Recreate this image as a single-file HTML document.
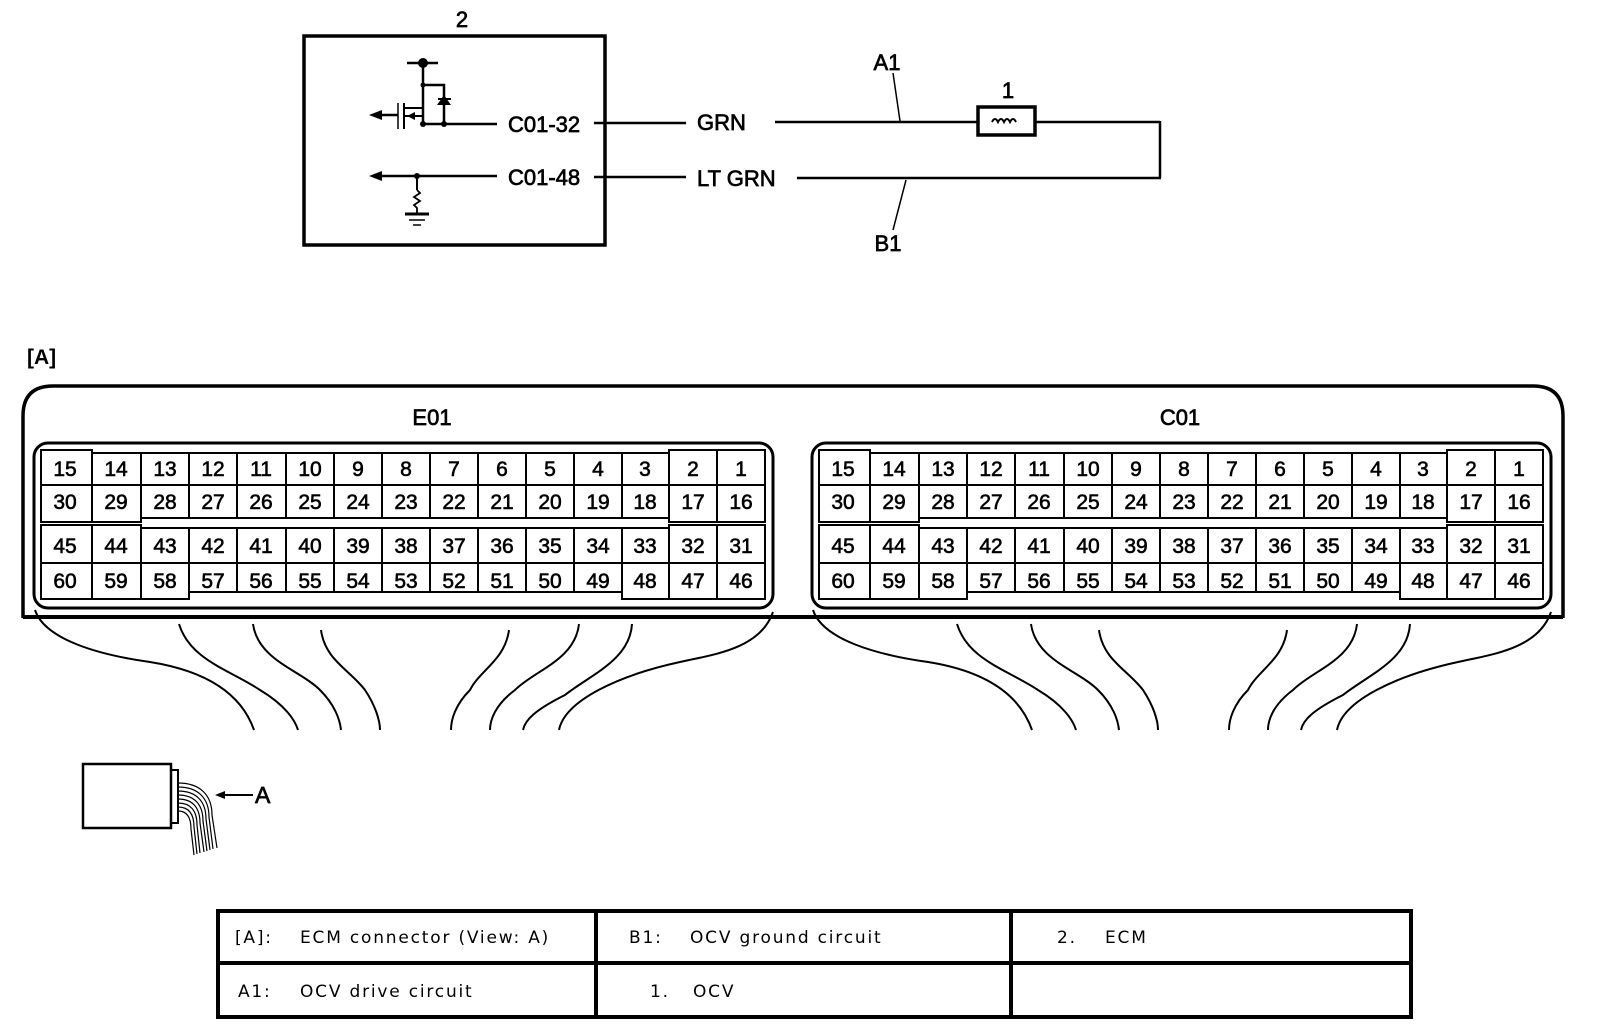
<!DOCTYPE html>
<html><head><meta charset="utf-8"><style>
html,body{margin:0;padding:0;background:#fff;}
svg{display:block;}
.t{font-family:"Liberation Sans",Arial,sans-serif;font-size:22px;fill:#000;stroke:#000;stroke-width:0.7;}
.n{font-family:"Liberation Sans",Arial,sans-serif;font-size:21px;fill:#000;stroke:#000;stroke-width:0.6;text-anchor:middle;}
.v{font-family:"DejaVu Sans",Verdana,sans-serif;font-size:17px;fill:#000;letter-spacing:1.8px;}
</style></head><body>
<svg width="1600" height="1036" viewBox="0 0 1600 1036" xmlns="http://www.w3.org/2000/svg">
<g fill="none" stroke="#000">
<rect x="304" y="36" width="301" height="209" stroke-width="3.5"/>
<line x1="407" y1="63" x2="438" y2="63" stroke-width="2.5"/>
<line x1="423" y1="63" x2="423" y2="124" stroke-width="2.5"/>
<polyline points="423,85 444,85 444,124" stroke-width="2.5"/>
<line x1="423" y1="124" x2="497" y2="124" stroke-width="2.5"/>
<line x1="398" y1="103" x2="398" y2="129" stroke-width="1.5"/>
<line x1="404" y1="103" x2="404" y2="129" stroke-width="2"/>
<line x1="404" y1="108" x2="423" y2="108" stroke-width="2"/>
<line x1="404" y1="116" x2="423" y2="116" stroke-width="2"/>
<line x1="380" y1="115" x2="398" y2="115" stroke-width="2.5"/>
<line x1="438" y1="99" x2="451" y2="99" stroke-width="2"/>
<line x1="380" y1="176" x2="497" y2="176" stroke-width="2.5"/>
<line x1="417" y1="176" x2="417" y2="190" stroke-width="2"/>
<polyline points="417,190 420,193 414,197 420,201 414,205 417,208 417,214" stroke-width="1.8"/>
<line x1="405" y1="214" x2="429" y2="214" stroke-width="3"/>
<line x1="409" y1="220" x2="425" y2="220" stroke-width="1.5"/>
<line x1="413" y1="225" x2="421" y2="225" stroke-width="1.5"/>
<line x1="594" y1="123" x2="686" y2="123" stroke-width="2.5"/>
<line x1="594" y1="177" x2="686" y2="177" stroke-width="2.5"/>
<line x1="775" y1="122" x2="977" y2="122" stroke-width="2.5"/>
<line x1="1036" y1="122" x2="1160" y2="122" stroke-width="2.5"/>
<line x1="1160" y1="121" x2="1160" y2="178" stroke-width="2.5"/>
<line x1="797" y1="178" x2="1161" y2="178" stroke-width="2.5"/>
<rect x="978" y="107" width="57" height="28" stroke-width="3.5"/>
<path d="M992,122 q3,-6 6,0 q3,-6 6,0 q3,-6 6,0 q3,-6 6,0" stroke-width="2"/>
<line x1="893" y1="73" x2="900" y2="121" stroke-width="1.5"/>
<line x1="906" y1="180" x2="893" y2="230" stroke-width="1.5"/>
</g>
<g fill="#000">
<circle cx="423" cy="63" r="5"/>
<circle cx="423" cy="85" r="2.5"/>
<circle cx="423" cy="124" r="3"/>
<circle cx="444" cy="124" r="3"/>
<circle cx="417" cy="176" r="3"/>
<polygon points="437,105 451,105 444,95"/>
<polygon points="369,115 382,110 382,120"/>
<polygon points="407,116 415,112 415,120"/>
<polygon points="369,176 382,171 382,181"/>
</g>
<text class="t" x="462" y="27" text-anchor="middle">2</text>
<text class="t" x="508" y="132">C01-32</text>
<text class="t" x="508" y="185">C01-48</text>
<text class="t" x="697" y="130">GRN</text>
<text class="t" x="697" y="186">LT GRN</text>
<text class="t" x="887" y="70" text-anchor="middle">A1</text>
<text class="t" x="1008" y="98" text-anchor="middle">1</text>
<text class="t" x="888" y="251" text-anchor="middle">B1</text>
<text x="27" y="364" style="font-family:'Liberation Sans',Arial,sans-serif;font-size:21px;font-weight:bold">[A]</text>

<path d="M23,618 L23,416 Q23,386 53,386 L1533,386 Q1563,386 1563,416 L1563,618" fill="none" stroke="#000" stroke-width="3.5"/>
<line x1="23" y1="617" x2="1563" y2="617" stroke="#000" stroke-width="4"/>
<text class="t" x="432" y="425" text-anchor="middle">E01</text>
<text class="t" x="1180" y="425" text-anchor="middle">C01</text>

<g id="blk">
<rect x="34" y="443" width="739" height="165" rx="14" fill="none" stroke="#000" stroke-width="3"/>
<g fill="#fff" stroke="#000" stroke-width="2">
<rect x="41" y="450" width="51" height="35"/><rect x="41" y="485" width="51" height="37"/>
<rect x="92" y="453" width="49" height="32"/><rect x="92" y="485" width="49" height="37"/>
<rect x="141" y="453" width="48" height="32"/><rect x="141" y="485" width="48" height="33"/>
<rect x="189" y="453" width="48" height="32"/><rect x="189" y="485" width="48" height="33"/>
<rect x="237" y="453" width="49" height="32"/><rect x="237" y="485" width="49" height="33"/>
<rect x="286" y="453" width="48" height="32"/><rect x="286" y="485" width="48" height="33"/>
<rect x="334" y="453" width="48" height="32"/><rect x="334" y="485" width="48" height="33"/>
<rect x="382" y="453" width="48" height="32"/><rect x="382" y="485" width="48" height="33"/>
<rect x="430" y="453" width="48" height="32"/><rect x="430" y="485" width="48" height="33"/>
<rect x="478" y="453" width="48" height="32"/><rect x="478" y="485" width="48" height="33"/>
<rect x="526" y="453" width="48" height="32"/><rect x="526" y="485" width="48" height="33"/>
<rect x="574" y="453" width="48" height="32"/><rect x="574" y="485" width="48" height="33"/>
<rect x="622" y="453" width="47" height="32"/><rect x="622" y="485" width="47" height="33"/>
<rect x="669" y="450" width="48" height="35"/><rect x="669" y="485" width="48" height="37"/>
<rect x="717" y="450" width="48" height="35"/><rect x="717" y="485" width="48" height="37"/>
<rect x="41" y="525" width="51" height="38"/><rect x="41" y="563" width="51" height="36"/>
<rect x="92" y="525" width="49" height="38"/><rect x="92" y="563" width="49" height="36"/>
<rect x="141" y="528" width="48" height="35"/><rect x="141" y="563" width="48" height="36"/>
<rect x="189" y="528" width="48" height="35"/><rect x="189" y="563" width="48" height="29"/>
<rect x="237" y="528" width="49" height="35"/><rect x="237" y="563" width="49" height="29"/>
<rect x="286" y="528" width="48" height="35"/><rect x="286" y="563" width="48" height="29"/>
<rect x="334" y="528" width="48" height="35"/><rect x="334" y="563" width="48" height="29"/>
<rect x="382" y="528" width="48" height="35"/><rect x="382" y="563" width="48" height="29"/>
<rect x="430" y="528" width="48" height="35"/><rect x="430" y="563" width="48" height="29"/>
<rect x="478" y="528" width="48" height="35"/><rect x="478" y="563" width="48" height="29"/>
<rect x="526" y="528" width="48" height="35"/><rect x="526" y="563" width="48" height="29"/>
<rect x="574" y="528" width="48" height="35"/><rect x="574" y="563" width="48" height="29"/>
<rect x="622" y="528" width="47" height="35"/><rect x="622" y="563" width="47" height="36"/>
<rect x="669" y="525" width="48" height="38"/><rect x="669" y="563" width="48" height="36"/>
<rect x="717" y="525" width="48" height="38"/><rect x="717" y="563" width="48" height="36"/>
</g>
<g class="n">
<text x="65" y="476">15</text><text x="116" y="476">14</text><text x="165" y="476">13</text><text x="213" y="476">12</text><text x="261" y="476">11</text><text x="310" y="476">10</text><text x="358" y="476">9</text><text x="406" y="476">8</text><text x="454" y="476">7</text><text x="502" y="476">6</text><text x="550" y="476">5</text><text x="598" y="476">4</text><text x="645" y="476">3</text><text x="693" y="476">2</text><text x="741" y="476">1</text>
<text x="65" y="509">30</text><text x="116" y="509">29</text><text x="165" y="509">28</text><text x="213" y="509">27</text><text x="261" y="509">26</text><text x="310" y="509">25</text><text x="358" y="509">24</text><text x="406" y="509">23</text><text x="454" y="509">22</text><text x="502" y="509">21</text><text x="550" y="509">20</text><text x="598" y="509">19</text><text x="645" y="509">18</text><text x="693" y="509">17</text><text x="741" y="509">16</text>
<text x="65" y="553">45</text><text x="116" y="553">44</text><text x="165" y="553">43</text><text x="213" y="553">42</text><text x="261" y="553">41</text><text x="310" y="553">40</text><text x="358" y="553">39</text><text x="406" y="553">38</text><text x="454" y="553">37</text><text x="502" y="553">36</text><text x="550" y="553">35</text><text x="598" y="553">34</text><text x="645" y="553">33</text><text x="693" y="553">32</text><text x="741" y="553">31</text>
<text x="65" y="588">60</text><text x="116" y="588">59</text><text x="165" y="588">58</text><text x="213" y="588">57</text><text x="261" y="588">56</text><text x="310" y="588">55</text><text x="358" y="588">54</text><text x="406" y="588">53</text><text x="454" y="588">52</text><text x="502" y="588">51</text><text x="550" y="588">50</text><text x="598" y="588">49</text><text x="645" y="588">48</text><text x="693" y="588">47</text><text x="741" y="588">46</text>
</g>
<g fill="none" stroke="#000" stroke-width="2">
<path d="M35,610 C45,640 100,655 150,662 C200,670 240,690 254,730"/>
<path d="M179,624 C190,660 230,670 260,690 C285,705 295,720 298,730"/>
<path d="M253,624 C258,660 300,670 320,690 C335,705 340,720 341,730"/>
<path d="M321,630 C325,660 350,670 365,690 C375,705 380,720 380,730"/>
<path d="M509,630 C505,660 480,670 470,690 C455,705 451,720 451,730"/>
<path d="M579,624 C575,660 535,670 515,690 C495,705 490,720 490,730"/>
<path d="M632,624 C630,660 590,675 565,695 C535,710 525,720 523,730"/>
<path d="M773,612 C760,650 710,655 680,662 C620,675 565,700 559,730"/>
</g>
</g>
<use href="#blk" x="778" y="0"/>

<g fill="none" stroke="#000">
<rect x="83" y="764" width="88" height="64" stroke-width="2.5"/>
<rect x="171" y="770" width="7" height="53" stroke-width="2"/>
<g stroke-width="1.2">
<path d="M178,783 C200,783 212,795 212,815 L217,848"/>
<path d="M178,787 C198,787 209,798 209,817 L213,849"/>
<path d="M178,791 C196,791 206,801 206,819 L210,850"/>
<path d="M178,795 C194,795 203,804 203,821 L207,851"/>
<path d="M178,799 C192,799 200,807 200,823 L204,852"/>
<path d="M178,803 C190,803 197,810 197,825 L200,853"/>
<path d="M178,807 C188,807 194,813 194,827 L197,854"/>
<path d="M178,811 C186,811 191,816 191,829 L194,855"/>
</g>
<line x1="222" y1="795" x2="253" y2="795" stroke-width="2"/>
</g>
<polygon points="215,795 225,791 225,799" fill="#000"/>
<text class="t" x="255" y="803" style="font-size:23px">A</text>

<g fill="none" stroke="#000" stroke-width="4">
<rect x="218" y="911" width="1193" height="106"/>
<line x1="218" y1="963" x2="1411" y2="963"/>
<line x1="596" y1="911" x2="596" y2="1017"/>
<line x1="1011" y1="911" x2="1011" y2="1017"/>
</g>
<g class="v">
<text x="235" y="943">[A]:</text><text x="300" y="943">ECM connector (View: A)</text>
<text x="629" y="943">B1:</text><text x="690" y="943">OCV ground circuit</text>
<text x="1057" y="943">2.</text><text x="1105" y="943">ECM</text>
<text x="238" y="997">A1:</text><text x="300" y="997">OCV drive circuit</text>
<text x="650" y="997">1.</text><text x="693" y="997">OCV</text>
</g>
</svg>
</body></html>
